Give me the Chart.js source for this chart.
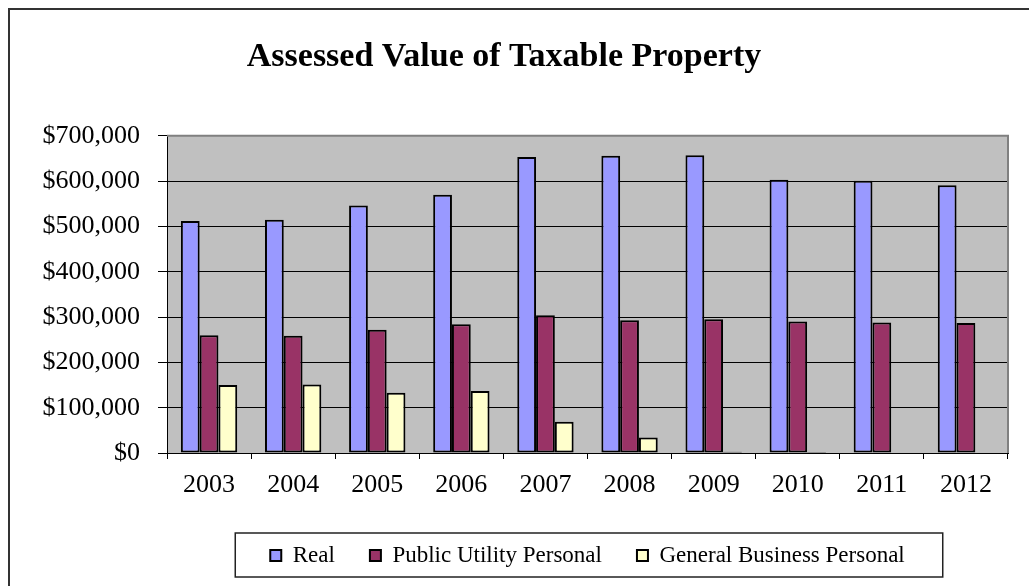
<!DOCTYPE html>
<html>
<head>
<meta charset="utf-8">
<script src="https://cdn.jsdelivr.net/npm/chart.js@4.4.0/dist/chart.umd.min.js"></script>
<style>
  html, body { margin: 0; padding: 0; background: #fff; }
  #wrap { width: 1029px; height: 586px; }
</style>
</head>
<body>
<div id="wrap"><canvas id="taxChart" width="1029" height="586"></canvas></div>
<script>
// Dados
const years = ["2003", "2004", "2005", "2006", "2007", "2008", "2009", "2010", "2011", "2012"];
const realValues = [512000, 515000, 546000, 570000, 653000, 656000, 657000, 603000, 601000, 591000];
const publicUtilityValues = [260000, 259000, 272000, 284000, 304000, 293000, 295000, 290000, 288000, 287000];
const generalBusinessValues = [150000, 151000, 133000, 137000, 69000, 34000, 3000, 2000, 0, 0];
const yTicks = [0, 100000, 200000, 300000, 400000, 500000, 600000, 700000];

const serif = "'Liberation Serif', 'Times New Roman', serif";

// fundo, área do gráfico e moldura
const framePlugin = {
  id: "frame",
  beforeDraw(chart) {
    const { ctx, chartArea: a } = chart;
    ctx.save();
    ctx.fillStyle = "#fff";
    ctx.fillRect(0, 0, chart.width, chart.height);
    ctx.fillStyle = "#c0c0c0";
    ctx.fillRect(a.left, a.top, a.right - a.left, a.bottom - a.top);
    // moldura externa
    ctx.strokeStyle = "#333";
    ctx.lineWidth = 2;
    ctx.beginPath();
    ctx.moveTo(9, chart.height);
    ctx.lineTo(9, 9);
    ctx.lineTo(chart.width, 9);
    ctx.stroke();
    ctx.restore();
  },
  afterLayout(chart) {
    // centraliza a legenda sob a área do gráfico
    const lg = chart.legend;
    const a = chart.chartArea;
    lg.left = a.left;
    lg.right = a.right;
    lg.width = a.right - a.left;
  },
  afterDraw(chart) {
    const { ctx, chartArea: a } = chart;
    ctx.save();
    ctx.strokeStyle = "#808080";
    ctx.lineWidth = 2;
    ctx.beginPath();
    ctx.moveTo(a.left, a.top);
    ctx.lineTo(a.right, a.top);
    ctx.lineTo(a.right, a.bottom);
    ctx.stroke();
    // caixa da legenda
    const hb = chart.legend.legendHitBoxes;
    if (hb && hb.length) {
      const first = hb[0];
      const last = hb[hb.length - 1];
      const x0 = first.left - 35;
      const x1 = last.left + last.width + 38;
      const y0 = first.top - 11;
      const y1 = first.top + first.height + 10;
      ctx.strokeStyle = "#222";
      ctx.lineWidth = 1.5;
      ctx.strokeRect(x0, y0, x1 - x0, y1 - y0);
    }
    ctx.restore();
  },
};

const bar = (label, data, color) => ({
  label,
  data,
  backgroundColor: color,
  borderColor: "#000",
  borderWidth: 2,
  borderSkipped: false,
  categoryPercentage: 0.67,
  barPercentage: 1.0,
});

new Chart(document.getElementById("taxChart").getContext("2d"), {
  type: "bar",
  data: {
    labels: years,
    datasets: [
      bar("Real", realValues, "#9999ff"),
      bar("Public Utility Personal", publicUtilityValues, "#993366"),
      bar("General Business Personal", generalBusinessValues, "#ffffcc"),
    ],
  },
  options: {
    responsive: false,
    animation: false,
    devicePixelRatio: 1,
    layout: { padding: { left: 0, right: 21, top: 0, bottom: 9 } },
    plugins: {
      title: {
        display: true,
        text: "Assessed Value of Taxable Property",
        color: "#000",
        font: { family: serif, size: 34, weight: "bold" },
        padding: { top: 37, bottom: 58 },
      },
      legend: {
        position: "bottom",
        labels: {
          color: "#000",
          font: { family: serif, size: 23 },
          boxWidth: 11,
          boxHeight: 11,
          padding: 35,
        },
      },
      tooltip: { enabled: false },
    },
    scales: {
      x: {
        afterFit(scale) { scale.height = 56; },
        grid: {
          offset: true,
          drawOnChartArea: false,
          drawTicks: true,
          tickLength: 6,
          tickColor: "#000",
        },
        border: { color: "#000", width: 1 },
        ticks: {
          color: "#000",
          font: { family: serif, size: 26 },
          padding: 11,
        },
      },
      y: {
        min: 0,
        max: 700000,
        afterFit(scale) { scale.width = 167; },
        afterBuildTicks(scale) { scale.ticks = yTicks.map((v) => ({ value: v })); },
        grid: {
          color: (c) => (c.tick && c.tick.value === 700000 ? "#808080" : "#000"),
          tickColor: "#000",
          tickLength: 9,
          lineWidth: 1,
        },
        border: { color: "#000", width: 1 },
        ticks: {
          color: "#000",
          font: { family: serif, size: 26 },
          padding: 18,
          callback: (v) => "$" + Number(v).toLocaleString("en-US"),
        },
      },
    },
  },
  plugins: [framePlugin],
});
</script>
</body>
</html>
